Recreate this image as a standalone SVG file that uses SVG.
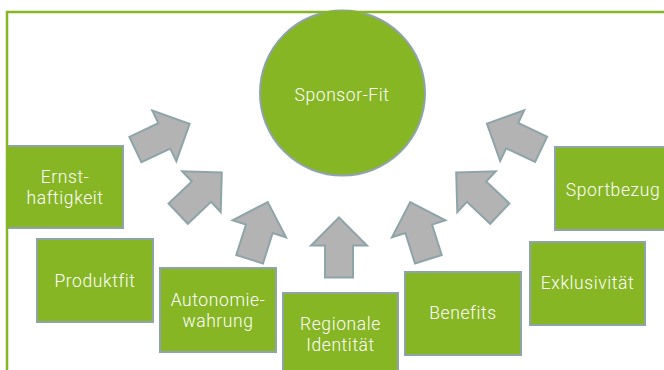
<svg xmlns="http://www.w3.org/2000/svg" width="664" height="370" viewBox="0 0 664 370">
  <style>
    .box { fill: #86b624; stroke: #8fa3ab; stroke-width: 2; }
    .hub { fill: #86b624; stroke: #8fa3ab; stroke-width: 2; }
    .lbl { fill: #ffffff; font-family: Roboto, "Liberation Sans", Arial, sans-serif; font-weight: 300; font-size: 17.5px; letter-spacing: 0.6px; text-anchor: middle; }
    .arrow { fill: #b3b3b3; stroke: #8ea4a9; stroke-width: 2; stroke-linejoin: miter; }
  </style>
  <defs>
    <!-- block arrow pointing up, centred on its own origin -->
    <path id="blockArrow" d="M0,-30 L28,-2 L14,-2 L14,30 L-14,30 L-14,-2 L-28,-2 Z"/>
  </defs>
  <rect width="664" height="370" fill="#ffffff"/>

  <g id="sponsor-fit">
    <circle class="hub" cx="342.5" cy="93" r="82.5"/>
    <text class="lbl" x="342" y="101">Sponsor-Fit</text>
  </g>

  <g id="connectors">
    <use href="#blockArrow" class="arrow" transform="translate(162.5,136.7) rotate(64.6)"/>
    <use href="#blockArrow" class="arrow" transform="translate(200,193) rotate(46.6)"/>
    <use href="#blockArrow" class="arrow" transform="translate(258.7,230.7) rotate(17.6)"/>
    <use href="#blockArrow" class="arrow" transform="translate(339,247.5)"/>
    <use href="#blockArrow" class="arrow" transform="translate(419.3,230.7) rotate(-17.6)"/>
    <use href="#blockArrow" class="arrow" transform="translate(478,193) rotate(-46.6)"/>
    <use href="#blockArrow" class="arrow" transform="translate(514,136.5) rotate(-64.6)"/>
  </g>

  <g id="ernsthaftigkeit">
    <rect class="box" x="7" y="146" width="116" height="82"/>
    <text class="lbl" x="65" y="183">Ernst-</text>
    <text class="lbl" x="65" y="204">haftigkeit</text>
  </g>
  <g id="produktfit">
    <rect class="box" x="37" y="239" width="116" height="83"/>
    <text class="lbl" x="95" y="287">Produktfit</text>
  </g>
  <g id="autonomiewahrung">
    <rect class="box" x="160" y="268" width="116" height="84"/>
    <text class="lbl" x="218" y="306">Autonomie-</text>
    <text class="lbl" x="218" y="327">wahrung</text>
  </g>
  <g id="regionale-identitaet">
    <rect class="box" x="283" y="293" width="115" height="83"/>
    <text class="lbl" x="340.5" y="330">Regionale</text>
    <text class="lbl" x="340.5" y="351">Identität</text>
  </g>
  <g id="benefits">
    <rect class="box" x="405" y="272" width="116" height="83"/>
    <text class="lbl" x="463" y="319">Benefits</text>
  </g>
  <g id="exklusivitaet">
    <rect class="box" x="530" y="242" width="115" height="83"/>
    <text class="lbl" x="587.5" y="289">Exklusivität</text>
  </g>
  <g id="sportbezug">
    <rect class="box" x="555" y="147" width="116" height="83"/>
    <text class="lbl" x="613" y="196">Sportbezug</text>
  </g>

  <!-- outer frame, running off the right and bottom edges -->
  <rect x="7" y="12" width="700" height="400" fill="none" stroke="#86b624" stroke-width="2.5"/>
</svg>
